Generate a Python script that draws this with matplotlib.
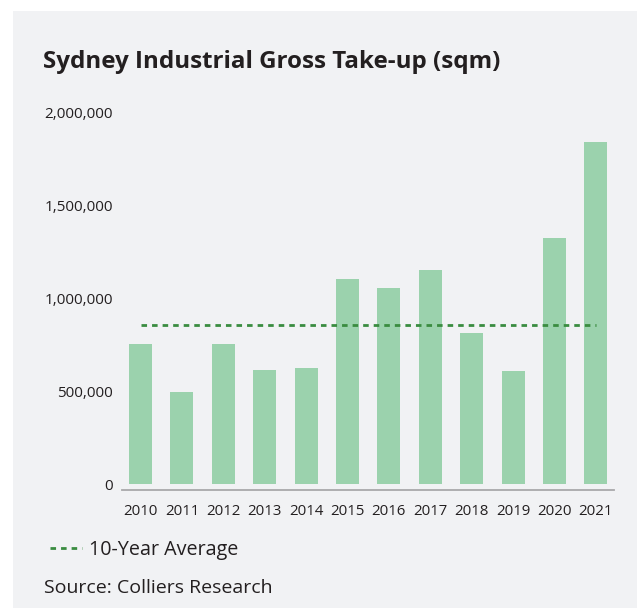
import matplotlib
matplotlib.use("Agg")
import matplotlib.pyplot as plt
from matplotlib.patches import Rectangle
from matplotlib.ticker import FuncFormatter

plt.rcParams["font.family"] = ["Open Sans", "DejaVu Sans"]
plt.rcParams["lines.scale_dashes"] = False

years = ["2010", "2011", "2012", "2013", "2014", "2015",
         "2016", "2017", "2018", "2019", "2020", "2021"]
take_up = [755000, 497000, 755000, 616000, 626000, 1105000,
           1056000, 1153000, 815000, 610000, 1325000, 1841000]
ten_year_avg = 855000
y_ticks = [0, 500000, 1000000, 1500000, 2000000]

W, H = 637, 608
fig = plt.figure(figsize=(W / 100, H / 100), dpi=100)
fig.patch.set_facecolor("white")

text_color = "#231f20"
bar_color = "#9bd2ad"
avg_color = "#3a8c40"

# grey card behind the chart
fig.add_artist(Rectangle((13 / W, 0), 1 - 13 / W, 1 - 11 / H,
                         transform=fig.transFigure, facecolor="#f1f2f4",
                         edgecolor="none", zorder=0))


def fx(px):
    return px / W


def fy(py):
    return 1 - py / H


ax = fig.add_axes([fx(122), fy(490), fx(614) - fx(122), fy(112) - fy(490)])
ax.set_facecolor("none")

x = list(range(len(years)))
ax.bar(x, take_up, width=0.556, color=bar_color, zorder=2)
ax.plot([x[0], x[-1]], [ten_year_avg, ten_year_avg], color=avg_color,
        lw=2.0, dashes=(4.0, 3.6), zorder=3, label="10-Year Average")

ax.set_xlim(-0.447, len(years) - 1 + 0.44)
ax.set_ylim(-29600, 2000000)
ax.set_yticks(y_ticks)
ax.yaxis.set_major_formatter(FuncFormatter(lambda v, p: f"{int(v):,}"))
ax.set_xticks(x)
ax.set_xticklabels(years)
ax.tick_params(axis="y", length=0, pad=6.5, labelsize=11, labelcolor=text_color)
ax.tick_params(axis="x", length=0, pad=10, labelsize=10.8, labelcolor=text_color)

for s in ["top", "right", "left"]:
    ax.spines[s].set_visible(False)
ax.spines["bottom"].set_color("#a8a8aa")
ax.spines["bottom"].set_linewidth(1.3)

fig.text(fx(43), fy(62), "Sydney Industrial Gross Take-up (sqm)",
         fontsize=17.4, fontweight="bold", color=text_color,
         ha="left", va="center")

handles, labels = ax.get_legend_handles_labels()
fig.legend(handles, labels, loc="center left",
           bbox_to_anchor=(fx(50), fy(550)), frameon=False,
           fontsize=14.2, handlelength=1.63, handletextpad=0.36,
           borderpad=0, borderaxespad=0, labelcolor=text_color)

fig.text(fx(44), fy(588), "Source: Colliers Research", fontsize=14,
         color=text_color, ha="left", va="center")

fig.savefig("out.png", dpi=100, facecolor="white")
